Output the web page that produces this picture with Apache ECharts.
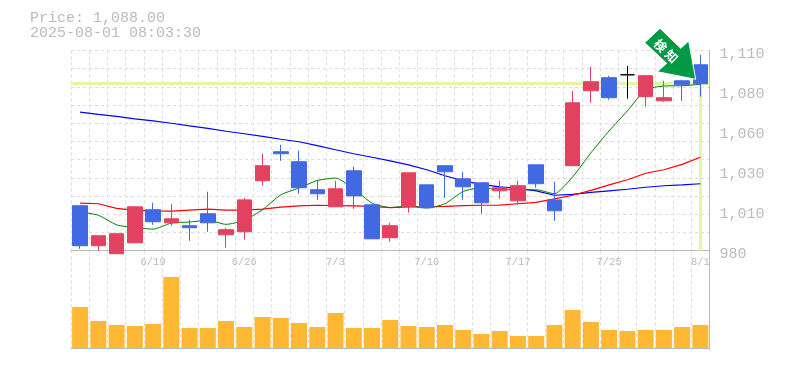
<!DOCTYPE html>
<html><head><meta charset="utf-8">
<style>html,body{margin:0;padding:0;background:#fff}#c{width:785px;height:370px}</style>
<script src="https://cdn.jsdelivr.net/npm/echarts@6/dist/echarts.min.js"></script>
</head><body><div id="c"></div>
<script>
const dates = ['6/13','6/16','6/17','6/18','6/19','6/20','6/23','6/24','6/25','6/26','6/27','6/30','7/1','7/2','7/3','7/4','7/7','7/8','7/9','7/10','7/11','7/14','7/15','7/16','7/17','7/18','7/22','7/23','7/24','7/25','7/28','7/29','7/30','7/31','8/1'];
const opens = [1009.1,983.1,977.9,985.0,1006.5,998,996.1,1003.9,990.2,992.2,1025.3,1044.2,1037.7,1019.5,1008.4,1031.8,1009.7,988.3,1008.4,1022.7,1035.1,1026.6,1024,1018.8,1012.3,1035.7,1012.9,1035.1,1083.8,1092.3,1094.2,1080,1077.3,1090.3,1100.7];
const closes = [983.1,989.6,990.9,1008.4,998.7,1000.6,994.8,998,993.5,1012.9,1035.1,1042.9,1020.8,1016.9,1020.1,1015.5,987.6,996.1,1030.5,1007.8,1031.2,1021.4,1011,1020.8,1022.1,1023.4,1005.8,1076,1089.7,1079.3,1094.2,1093.6,1079.3,1087.7,1088.4];
const lows = [981.1,979.8,977.9,985,996.7,996.1,986.3,992.2,981.8,987,1022.1,1038.3,1016.9,1012.9,1008.4,1007.1,987.6,985.7,1004.5,1007.8,1014.2,1012.9,1003.9,1013.6,1009.7,1020.8,999.3,1035.1,1076,1078,1078.6,1073.4,1076.7,1077.3,1080];
const highs = [1009.1,989.6,990.9,1008.4,1011,1010.4,1000,1018.2,994.8,1014.2,1042.9,1048.7,1044.8,1025.9,1025.3,1034.4,1009.7,998,1030.5,1022.7,1035.1,1031.2,1024,1025.3,1025.3,1035.7,1024.6,1083.8,1099.4,1093.6,1100,1094.2,1090.3,1091,1107.2];
const maShort = [1005.2,1002.9,996.7,994.8,993.9,997.8,998.5,999.6,997,999.6,1006.5,1016.2,1020.6,1025.5,1027.1,1020.1,1010.8,1007.9,1009,1007.6,1010.4,1018.4,1020.8,1019.5,1019.5,1019.5,1016.9,1027.9,1043.5,1057.8,1070.8,1084.5,1086.9,1087.1,1088];
const maMid = [1010.8,1010.4,1007.4,1006.1,1005.8,1005.6,1006.3,1006.9,1006.3,1006.3,1006.9,1008.2,1009,1009.4,1009.2,1009,1008.7,1007.9,1008.4,1008.4,1008.7,1009.2,1009.4,1009.5,1010.4,1011.3,1013.6,1015.9,1019.1,1022.7,1026,1030.2,1032.5,1036,1040.6];
const maLong = [1070,1068.5,1067.2,1065.6,1064.3,1062.7,1061,1059.4,1057.5,1055.9,1054.2,1052.3,1050.7,1048.2,1045.5,1042.9,1040.6,1038.3,1035.7,1032.5,1028.6,1025.3,1023,1021.4,1020.4,1018.8,1015.9,1016.5,1017.8,1018.8,1019.8,1021.1,1022.1,1022.7,1023.4];
const volumes = [4100,2700,2300,2200,2400,7100,2000,2000,2700,2100,3100,3000,2500,2100,3500,2000,2000,2800,2200,2100,2300,1800,1400,1700,1200,1200,2300,3800,2600,1800,1700,1800,1800,2100,2300];
const gridValues = [980,991.82,1003.64,1015.45,1027.27,1039.09,1050.91,1062.73,1074.55,1086.36,1098.18,1110];
const priceTicks = [980,1006,1032,1058,1084,1110];
const priceTickLabels = ['980','1,010','1,030','1,060','1,080','1,110'];
const priceLine = 1088.6;
const titleLines = ['Price: 1,088.00','2025-08-01 08:03:30'];

const GRAY = '#bbbbbb', MONO = '"Liberation Mono", monospace';
const dashed = {lineStyle:{color:'#dddddd',width:1,type:[3,3]}};
const lineS = (d,c,w,s) => ({type:'line',data:d,xAxisIndex:0,yAxisIndex:0,symbol:'none',z:3,silent:true,smooth:s,
  lineStyle:{color:c,width:w},itemStyle:{color:c}});

const chart = echarts.init(document.getElementById('c'),null,{renderer:'canvas'});
chart.setOption({
  animation:false,
  backgroundColor:'#fff',
  title:{text:titleLines.join('\n'),left:30,top:11,padding:0,
    textStyle:{color:GRAY,fontFamily:MONO,fontSize:15,fontWeight:'normal',lineHeight:15}},
  grid:[{left:71,top:50.5,width:638.5,height:200},{left:71,top:250.5,width:638.5,height:99.5}],
  xAxis:[
    {type:'category',gridIndex:0,data:dates,boundaryGap:true,
     axisLine:{lineStyle:{color:GRAY,width:1}},axisTick:{show:false,interval:0},
     splitLine:{show:true,interval:0,...dashed},
     axisLabel:{interval:i=>i%5===4,color:GRAY,fontFamily:MONO,fontSize:10.5,margin:6}},
    {type:'category',gridIndex:1,data:dates,boundaryGap:true,
     axisLine:{lineStyle:{color:GRAY,width:1}},axisTick:{show:false,interval:0},
     splitLine:{show:true,interval:0,...dashed},axisLabel:{show:false}}
  ],
  yAxis:[
    {type:'value',gridIndex:0,position:'right',min:980,max:1110,
     axisLine:{show:true,lineStyle:{color:GRAY,width:1}},
     axisTick:{show:false,customValues:gridValues},
     splitLine:{show:true,...dashed},
     axisLabel:{customValues:priceTicks,color:GRAY,fontFamily:MONO,fontSize:15,margin:10,
       verticalAlign:'top',lineHeight:7,formatter:v=>priceTickLabels[priceTicks.indexOf(v)]}},
    {type:'value',gridIndex:1,position:'right',min:-200,max:9750,
     axisLine:{show:true,lineStyle:{color:GRAY,width:1}},axisTick:{show:false},
     splitLine:{show:false},axisLabel:{show:false}}
  ],
  series:[
    {type:'line',data:[],xAxisIndex:0,yAxisIndex:0,z:1,silent:true,
     markLine:{silent:true,symbol:'none',z:1,animation:false,label:{show:false},
       lineStyle:{color:'#e3f6a6',width:3,type:'solid'},
       data:[{yAxis:priceLine},
         [{xAxis:dates[dates.length-1],yAxis:priceLine},{xAxis:dates[dates.length-1],yAxis:980}]]}},
    lineS(maLong,'#0000ff',1.2,false),
    lineS(maMid,'#ff0000',1.2,false),
    lineS(maShort,'#008000',1,0.2),
    {type:'candlestick',xAxisIndex:0,yAxisIndex:0,z:4,clip:false,barWidth:15,silent:true,
     data:dates.map((_,i)=>[opens[i],closes[i],lows[i],highs[i]]),
     itemStyle:{color:'#e2425f',color0:'#4169e1',borderColor:'#e2425f',borderColor0:'#4169e1',borderColorDoji:'#000000',borderWidth:1}},
    {type:'bar',xAxisIndex:1,yAxisIndex:1,data:volumes,barWidth:16,z:2,silent:true,itemStyle:{color:'#ffb833'}}
  ],
  graphic:[
    {type:'polygon',z:50,silent:true,
     shape:{points:[[660,28.3],[644.7,42.7],[666.7,63.3],[657.3,71.7],[695.7,79.3],[688.7,41],[680.7,48.3]]},
     style:{fill:'#009944',stroke:'#ffffff',lineWidth:1}},
    {type:'text',z:51,silent:true,x:666,y:51,rotation:-Math.PI/4,
     style:{text:'検 知',fill:'#ffffff',font:'bold 12.5px "Noto Sans CJK JP"',textAlign:'center',textVerticalAlign:'middle'}}
  ]
});
</script></body></html>
